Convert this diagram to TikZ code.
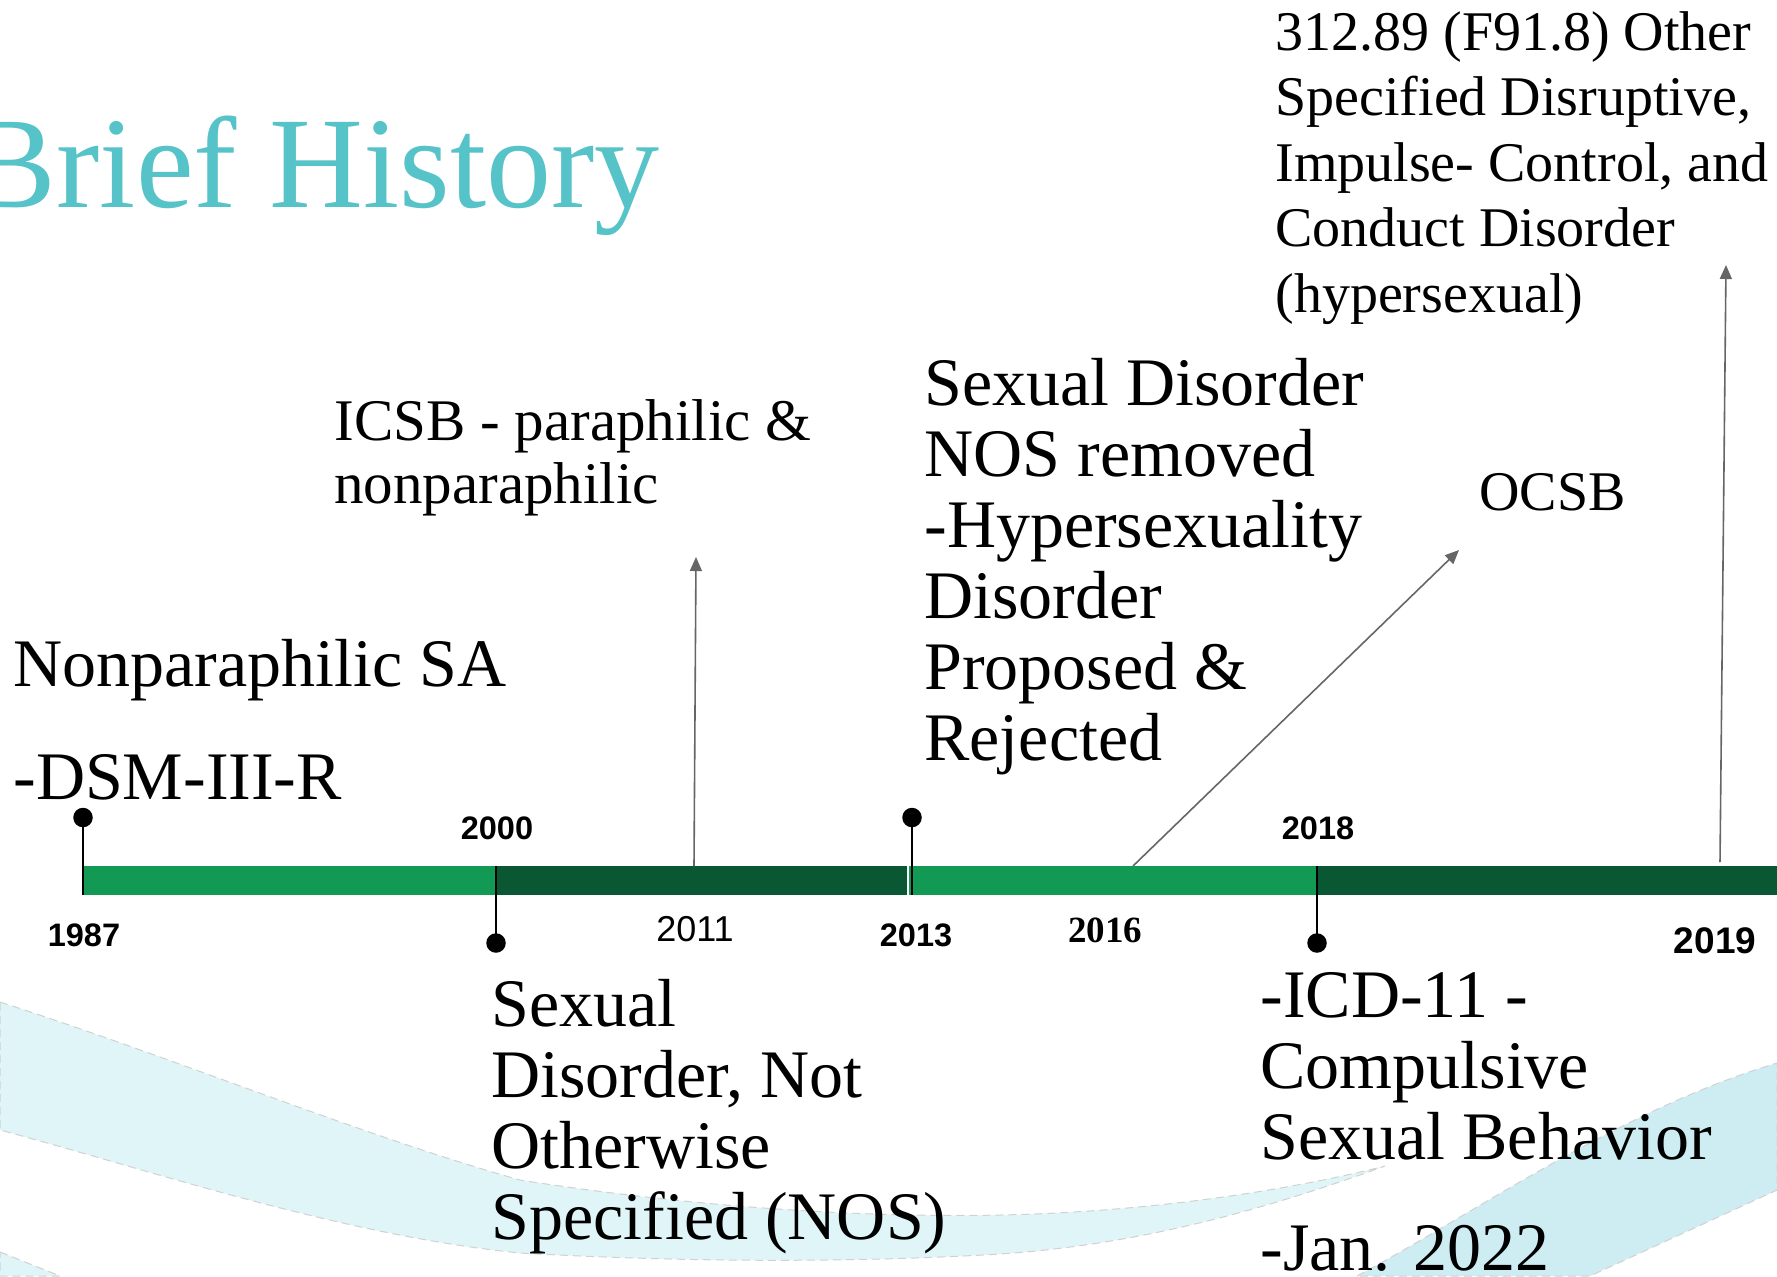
\documentclass[tikz,border=0pt]{standalone}
\usepackage{fontspec}
\setmainfont{Liberation Serif}
\newfontfamily\yrsans{Liberation Sans}
\usetikzlibrary{arrows.meta}
\definecolor{lightgrn}{HTML}{129A54}
\definecolor{darkgrn}{HTML}{0A5734}
\definecolor{titleteal}{HTML}{56C3C8}
\definecolor{bandAcol}{HTML}{DFF5F8}
\definecolor{bandBcol}{HTML}{CDEDF3}
\definecolor{arrgray}{HTML}{666666}
\newcommand\mytab[1]{\begin{tabular}[t]{@{}l@{}}#1\end{tabular}}
\tikzset{
  bigtxt/.style={anchor=base west, inner sep=0pt, font=\fontsize{34}{35.5}\selectfont},
  midtxt/.style={anchor=base west, inner sep=0pt, font=\fontsize{28}{32.8}\selectfont},
  yrbold/.style={inner sep=0pt, font=\yrsans\bfseries\fontsize{16.25}{18}\selectfont},
  pindot/.style={circle, fill=black, inner sep=0pt, minimum size=9.75pt},
  pinline/.style={draw=black, line width=1pt},
  grayarrow/.style={draw=arrgray, line width=0.8pt, -{Triangle[length=7pt,width=6pt]}},
  bandedge/.style={draw=black!18, line width=0.5pt, dash pattern=on 4pt off 2.5pt},
}
\begin{document}
\begin{tikzpicture}[x=0.5pt, y=-0.5pt]
\useasboundingbox (0,0) rectangle (1777,1276);
\clip (0,0) rectangle (1777,1276);
\fill[white] (0,0) rectangle (1777,1276);

% background swooshes
\path[fill=bandAcol, bandedge] (0,1002) .. controls (180,1060) and (360,1135) .. (520,1180)
  .. controls (680,1205) and (850,1218) .. (1000,1215)
  .. controls (1150,1212) and (1290,1190) .. (1385,1166)
  .. controls (1250,1215) and (1130,1245) .. (1000,1254)
  .. controls (850,1263) and (680,1262) .. (520,1253)
  .. controls (340,1235) and (150,1170) .. (0,1130) -- cycle;
\path[fill=bandAcol, bandedge] (0,1252) -- (60,1276) -- (0,1276) -- cycle;
\path[fill=bandBcol, bandedge] (1357,1276) .. controls (1480,1210) and (1620,1110) .. (1777,1063)
  -- (1777,1190) -- (1590,1276) -- cycle;

% title
\node[anchor=base east, inner sep=0pt, text=titleteal, font=\fontsize{65}{70}\selectfont] (title) at (660,207) {Brief History};

% timeline bar
\fill[lightgrn] (83,866) rectangle (496,895);
\fill[darkgrn] (496,866) rectangle (907,895);
\fill[lightgrn] (909,866) rectangle (1317,895);
\fill[darkgrn] (1317,866) rectangle (1777,895);

% pins
\node[pindot] (d1987) at (83,817.5) {};
\node[pindot] (d2000) at (496,943) {};
\node[pindot] (d2013) at (912,817.5) {};
\node[pindot] (d2018) at (1317,943) {};
\coordinate (b1987) at (83,895);
\coordinate (b2000) at (496,866);
\coordinate (b2013) at (912,895);
\coordinate (b2018) at (1317,866);
\draw[pinline] (d1987.center) -- (b1987);
\draw[pinline] (d2000.center) -- (b2000);
\draw[pinline] (d2013.center) -- (b2013);
\draw[pinline] (d2018.center) -- (b2018);

% gray arrows
\coordinate (a1s) at (694,866);
\coordinate (a1e) at (696,557);
\coordinate (a2s) at (1133,866);
\coordinate (a2e) at (1459,550);
\coordinate (a3s) at (1720,862);
\coordinate (a3e) at (1726,265);
\draw[grayarrow] (a1s) -- (a1e);
\draw[grayarrow] (a2s) -- (a2e);
\draw[grayarrow] (a3s) -- (a3e);

% year labels
\node[yrbold] (y1987) at (84,935.5) {1987};
\node[yrbold] (y2000) at (497,828) {2000};
\node[inner sep=0pt, font=\yrsans\fontsize{18}{20}\selectfont] (y2011) at (695,929.5) {2011};
\node[yrbold] (y2013) at (916,935.5) {2013};
\node[inner sep=0pt, font=\bfseries\fontsize{18.5}{20}\selectfont] (y2016) at (1105,930) {2016};
\node[yrbold] (y2018) at (1318,828) {2018};
\node[yrbold, font=\yrsans\bfseries\fontsize{18.5}{20}\selectfont] (y2019) at (1715,941) {2019};

% event texts
\node[bigtxt] (t1987) at (13,686) {\mytab{Nonparaphilic SA\\[21pt]-DSM-III-R}};
\node[anchor=base west, inner sep=0pt, font=\fontsize{29.5}{31.5}\selectfont] (t2011) at (334,440) {\mytab{ICSB - paraphilic \&\\nonparaphilic}};
\node[bigtxt] (t2013) at (924,405) {\mytab{Sexual Disorder\\NOS removed\\-Hypersexuality\\Disorder\\Proposed \&\\Rejected}};
\node[anchor=base west, inner sep=0pt, font=\fontsize{28}{30}\selectfont] (t2016) at (1479,510) {OCSB};
\node[midtxt] (t2019) at (1275,50) {\mytab{312.89 (F91.8) Other\\Specified Disruptive,\\Impulse- Control, and\\Conduct Disorder\\(hypersexual)}};
\node[bigtxt] (t2000) at (491,1026) {\mytab{Sexual\\Disorder, Not\\Otherwise\\Specified (NOS)}};
\node[bigtxt] (t2018) at (1260,1017) {\mytab{-ICD-11 -\\Compulsive\\Sexual Behavior\\[20pt]-Jan. 2022}};
\end{tikzpicture}
\end{document}
